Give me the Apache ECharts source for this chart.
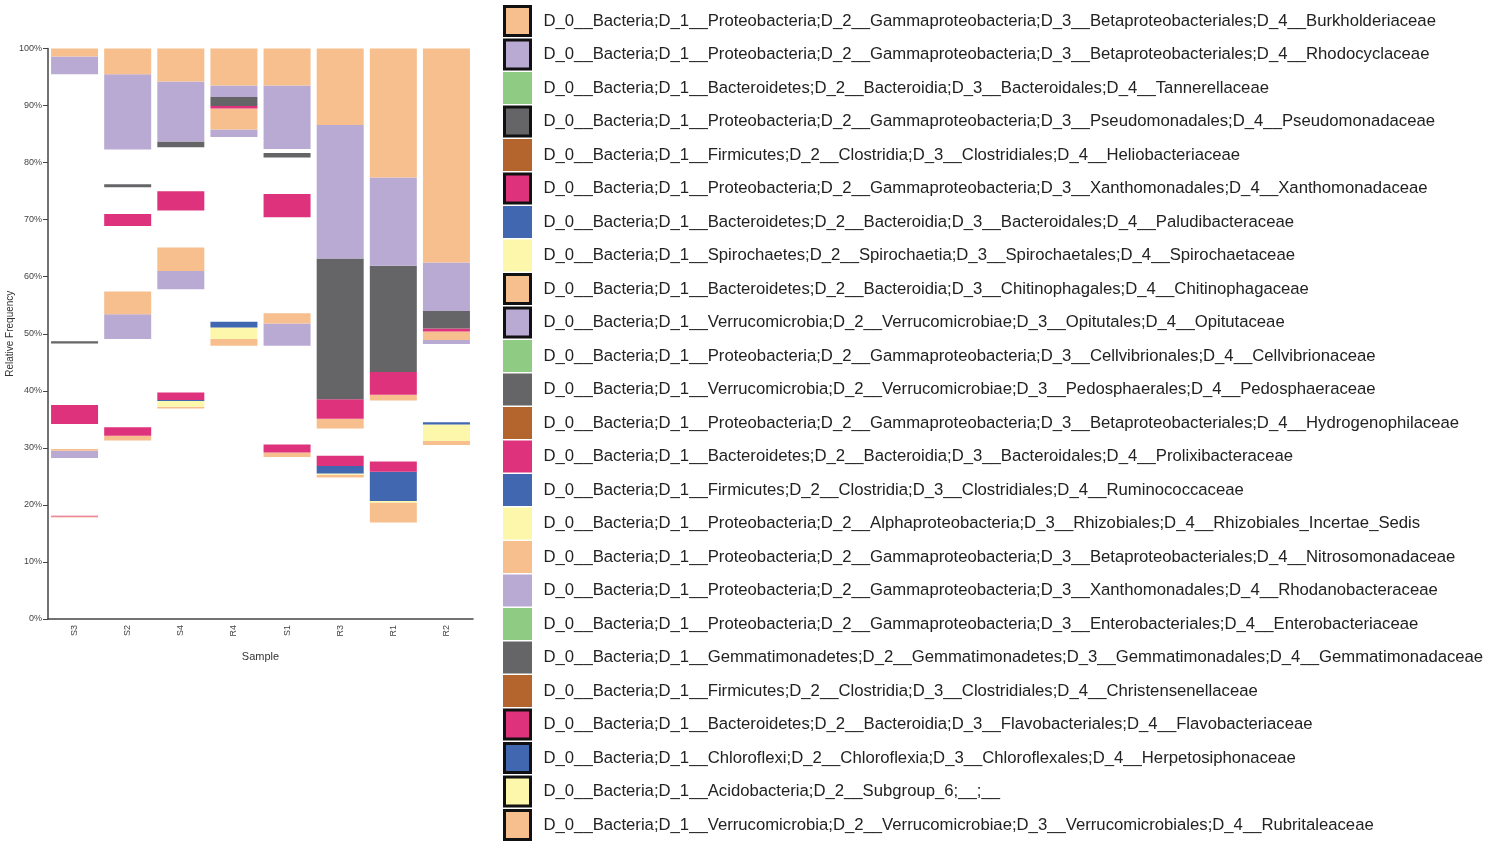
<!DOCTYPE html>
<html>
<head>
<meta charset="utf-8">
<script src="https://cdn.jsdelivr.net/npm/echarts@6/dist/echarts.min.js"></script>
<style>
  html, body { margin: 0; padding: 0; background: #fff; }
  #chart { width: 1492px; height: 842px; }
</style>
</head>
<body>
<div id="chart"></div>
<script>
const samples = ['S3', 'S2', 'S4', 'R4', 'S1', 'R3', 'R1', 'R2'];

const taxa = [
  'D_0__Bacteria;D_1__Proteobacteria;D_2__Gammaproteobacteria;D_3__Betaproteobacteriales;D_4__Burkholderiaceae',
  'D_0__Bacteria;D_1__Proteobacteria;D_2__Gammaproteobacteria;D_3__Betaproteobacteriales;D_4__Rhodocyclaceae',
  'D_0__Bacteria;D_1__Bacteroidetes;D_2__Bacteroidia;D_3__Bacteroidales;D_4__Tannerellaceae',
  'D_0__Bacteria;D_1__Proteobacteria;D_2__Gammaproteobacteria;D_3__Pseudomonadales;D_4__Pseudomonadaceae',
  'D_0__Bacteria;D_1__Firmicutes;D_2__Clostridia;D_3__Clostridiales;D_4__Heliobacteriaceae',
  'D_0__Bacteria;D_1__Proteobacteria;D_2__Gammaproteobacteria;D_3__Xanthomonadales;D_4__Xanthomonadaceae',
  'D_0__Bacteria;D_1__Bacteroidetes;D_2__Bacteroidia;D_3__Bacteroidales;D_4__Paludibacteraceae',
  'D_0__Bacteria;D_1__Spirochaetes;D_2__Spirochaetia;D_3__Spirochaetales;D_4__Spirochaetaceae',
  'D_0__Bacteria;D_1__Bacteroidetes;D_2__Bacteroidia;D_3__Chitinophagales;D_4__Chitinophagaceae',
  'D_0__Bacteria;D_1__Verrucomicrobia;D_2__Verrucomicrobiae;D_3__Opitutales;D_4__Opitutaceae',
  'D_0__Bacteria;D_1__Proteobacteria;D_2__Gammaproteobacteria;D_3__Cellvibrionales;D_4__Cellvibrionaceae',
  'D_0__Bacteria;D_1__Verrucomicrobia;D_2__Verrucomicrobiae;D_3__Pedosphaerales;D_4__Pedosphaeraceae',
  'D_0__Bacteria;D_1__Proteobacteria;D_2__Gammaproteobacteria;D_3__Betaproteobacteriales;D_4__Hydrogenophilaceae',
  'D_0__Bacteria;D_1__Bacteroidetes;D_2__Bacteroidia;D_3__Bacteroidales;D_4__Prolixibacteraceae',
  'D_0__Bacteria;D_1__Firmicutes;D_2__Clostridia;D_3__Clostridiales;D_4__Ruminococcaceae',
  'D_0__Bacteria;D_1__Proteobacteria;D_2__Alphaproteobacteria;D_3__Rhizobiales;D_4__Rhizobiales_Incertae_Sedis',
  'D_0__Bacteria;D_1__Proteobacteria;D_2__Gammaproteobacteria;D_3__Betaproteobacteriales;D_4__Nitrosomonadaceae',
  'D_0__Bacteria;D_1__Proteobacteria;D_2__Gammaproteobacteria;D_3__Xanthomonadales;D_4__Rhodanobacteraceae',
  'D_0__Bacteria;D_1__Proteobacteria;D_2__Gammaproteobacteria;D_3__Enterobacteriales;D_4__Enterobacteriaceae',
  'D_0__Bacteria;D_1__Gemmatimonadetes;D_2__Gemmatimonadetes;D_3__Gemmatimonadales;D_4__Gemmatimonadaceae',
  'D_0__Bacteria;D_1__Firmicutes;D_2__Clostridia;D_3__Clostridiales;D_4__Christensenellaceae',
  'D_0__Bacteria;D_1__Bacteroidetes;D_2__Bacteroidia;D_3__Flavobacteriales;D_4__Flavobacteriaceae',
  'D_0__Bacteria;D_1__Chloroflexi;D_2__Chloroflexia;D_3__Chloroflexales;D_4__Herpetosiphonaceae',
  'D_0__Bacteria;D_1__Acidobacteria;D_2__Subgroup_6;__;__',
  'D_0__Bacteria;D_1__Verrucomicrobia;D_2__Verrucomicrobiae;D_3__Verrucomicrobiales;D_4__Rubritaleaceae'
];

// 8 colour cycle, taxa colour = palette[i % 8]
const palette = ['#f6bf8d', '#b9aad3', '#8fcb82', '#656567', '#b4652d', '#df327c', '#4067b0', '#fcf7aa'];

// highlighted taxa (1-based, black box in legend); the rest are drawn blank
const highlighted = [1, 2, 4, 6, 9, 10, 22, 23, 24, 25];

// relative frequency (%) per sample, in legend order (top of bar downward)
const S3 = [1.4, 3.1, 46.8, 0.4, 10.8, 3.3, 4.4, 0, 0.3, 1.3, 10.1, 0, 0, 0, 0, 0, 0, 0, 0, 0, 0, 0.15, 0, 0, 0.15];
const S2 = [4.5, 13.2, 6.1, 0.5, 4.7, 2.1, 11.5, 0, 4.0, 4.3, 15.5, 0, 0, 0, 0, 0, 0, 0, 0, 0, 0, 1.5, 0, 0, 0.8];
const S4 = [5.8, 10.5, 0, 1.0, 7.7, 3.4, 6.5, 0, 4.1, 3.2, 18.1, 0, 0, 0, 0, 0, 0, 0, 0, 0, 0, 1.3, 0.2, 1.0, 0.3];
const R4 = [6.5, 2.0, 0, 1.6, 0, 0.4, 0, 0, 3.7, 1.3, 32.4, 0, 0, 0, 0, 0, 0, 0, 0, 0, 0, 0, 1.0, 2.0, 1.2];
const S1 = [6.5, 11.1, 0.7, 0.8, 6.4, 4.1, 16.8, 0, 1.8, 3.9, 17.3, 0, 0, 0, 0, 0, 0, 0, 0, 0, 0, 1.4, 0, 0, 0.8];
const R3 = [13.4, 23.4, 0, 24.7, 0, 3.4, 0, 0, 1.7, 0, 4.8, 0, 0, 0, 0, 0, 0, 0, 0, 0, 0, 1.8, 1.3, 0.2, 0.5];
const R1 = [22.6, 15.5, 0, 18.6, 0, 4.0, 0, 0, 1.0, 0, 10.7, 0, 0, 0, 0, 0, 0, 0, 0, 0, 0, 1.8, 5.1, 0.3, 3.5];
const R2 = [37.5, 8.5, 0, 3.1, 0, 0.5, 0, 0, 1.5, 0.7, 13.7, 0, 0, 0, 0, 0, 0, 0, 0, 0, 0, 0, 0.4, 2.9, 0.7];

const yTicks = [0, 10, 20, 30, 40, 50, 60, 70, 80, 90, 100];

const table = [S3, S2, S4, R4, S1, R3, R1, R2];
const blank = 'rgba(0,0,0,0)';

// remaining taxa sit under the listed ones
const series = [{
  name: 'Other',
  type: 'bar',
  stack: 'freq',
  barWidth: 47,
  itemStyle: { color: blank },
  data: table.map(row => +(100 - row.reduce((a, b) => a + b, 0)).toFixed(2))
}];
// stack bottom-up, so the last taxon goes first
for (let i = taxa.length - 1; i >= 0; i--) {
  const on = highlighted.includes(i + 1);
  series.push({
    name: taxa[i],
    type: 'bar',
    stack: 'freq',
    barWidth: 47,
    itemStyle: { color: on ? palette[i % 8] : blank },
    data: table.map(row => row[i])
  });
}

const chart = echarts.init(document.getElementById('chart'));
chart.setOption({
  animation: false,
  backgroundColor: '#fff',
  textStyle: { fontFamily: 'Liberation Sans, Arial, sans-serif' },
  grid: { left: 48, top: 48.5, width: 425, height: 570.5 },
  legend: {
    orient: 'vertical',
    left: 503,
    top: 5,
    height: 842,
    padding: 0,
    itemWidth: 26,
    itemHeight: 29,
    itemGap: 1.5,
    selectedMode: false,
    icon: 'rect',
    textStyle: { fontSize: 16.7, color: '#222', padding: [0, 0, 0, 8] },
    data: taxa.map((name, i) => {
      const on = highlighted.includes(i + 1);
      return {
        name: name,
        itemStyle: {
          color: palette[i % 8],
          borderColor: on ? '#111' : palette[i % 8],
          borderWidth: 3
        }
      };
    })
  },
  xAxis: {
    type: 'category',
    data: samples,
    name: 'Sample',
    nameLocation: 'middle',
    nameGap: 32,
    nameTextStyle: { fontSize: 11, color: '#333' },
    axisLine: { lineStyle: { color: '#444', width: 1.5 } },
    axisTick: { alignWithLabel: true, length: 5, lineStyle: { color: '#444' } },
    axisLabel: { rotate: 90, fontSize: 9, color: '#444', margin: 6 }
  },
  yAxis: {
    type: 'value',
    min: 0,
    max: 100,
    interval: 10,
    name: 'Relative Frequency',
    nameLocation: 'middle',
    nameGap: 28,
    nameTextStyle: { fontSize: 10, color: '#333' },
    axisLine: { show: true, lineStyle: { color: '#444', width: 1.5 } },
    axisTick: { show: true, length: 5, lineStyle: { color: '#444' } },
    splitLine: { show: false },
    axisLabel: {
      fontSize: 9,
      color: '#444',
      margin: 6,
      formatter: v => yTicks.includes(v) ? v + '%' : ''
    }
  },
  series: series
});
</script>
</body>
</html>
